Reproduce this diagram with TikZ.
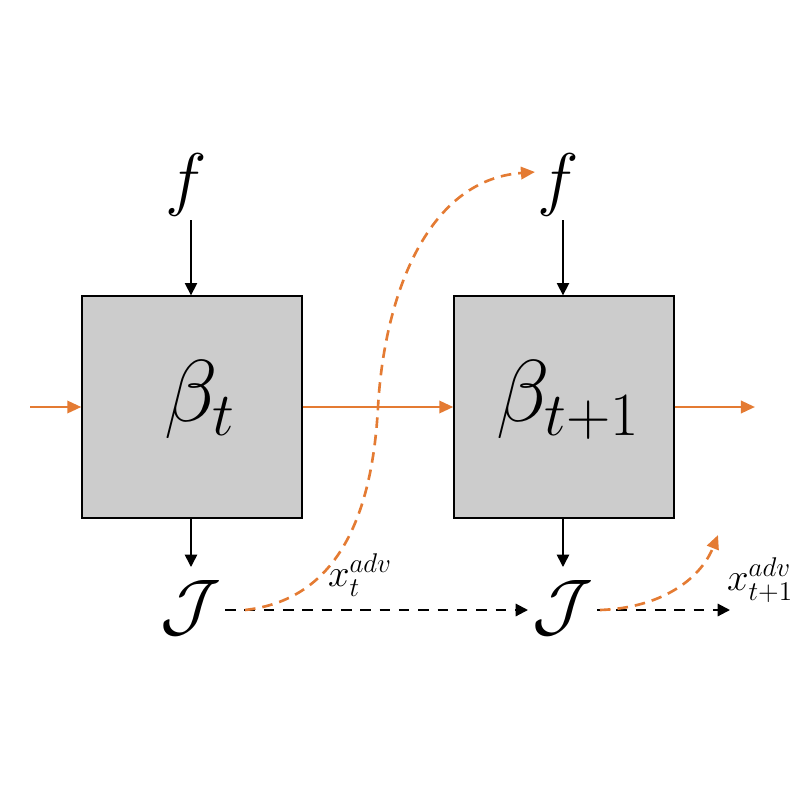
\RequirePackage{fix-cm}
\documentclass[tikz,border=0pt]{standalone}
\usetikzlibrary{arrows.meta}
\definecolor{org}{HTML}{E47B33}
\definecolor{boxgray}{HTML}{CCCCCC}
\begin{document}
\begin{tikzpicture}[x=0.02cm,y=-0.02cm,
  blk/.style={draw=black, line width=0.8pt, fill=boxgray, minimum width=4.4cm, minimum height=4.44cm, inner sep=0pt},
  sym/.style={inner sep=1pt, font=\fontsize{40}{46}\selectfont},
  big/.style={inner sep=0pt, font=\fontsize{50}{56}\selectfont},
  lab/.style={inner sep=0pt, font=\fontsize{22}{26}\selectfont},
  blkarr/.style={draw=black, line width=0.9pt, -{Triangle[length=7pt,width=7pt]}},
  orarr/.style={draw=org, line width=1.5pt, -{Triangle[length=8pt,width=7pt]}},
  ordash/.style={draw=org, line width=1.5pt, dash pattern=on 6pt off 4pt, -{Triangle[length=8pt,width=7pt]}},
  bkdash/.style={draw=black, line width=1.2pt, dash pattern=on 6pt off 5pt, -{Triangle[length=7pt,width=7pt]}}]
\useasboundingbox (0,0) rectangle (799,799);
\node[blk] (b1) at (192,407) {};
\node[blk] (b2) at (564,407) {};
\node[big] (bt) at (200,400) {$\beta_t$};
\node[big] (bt1) at (568,400) {$\beta_{t+1}$};
\node[sym] (f1) at (186,185) {$f$};
\node[sym] (f2) at (558,185) {$f$};
\node[sym] (J1) at (191,608) {$\mathcal{J}$};
\node[sym] (J2) at (563,608) {$\mathcal{J}$};
\node[lab] (x1) at (360,575) {$x_t^{adv}$};
\node[lab] (x2) at (760,580) {$x_{t+1}^{adv}$};
\coordinate (in) at (30,407);
\coordinate (out) at (755,407);
\coordinate (end2) at (730,610);
\coordinate (o2) at (718,535);
% black arrows
\draw[blkarr] (191,220) -- (b1.north -| 191,0);
\draw[blkarr] (563,220) -- (b2.north -| 563,0);
\draw[blkarr] (b1.south -| 191,0) -- (191,567);
\draw[blkarr] (b2.south -| 563,0) -- (563,567);
% orange solid
\draw[orarr] (in) -- (b1.west);
\draw[orarr] (b1.east) -- (b2.west);
\draw[orarr] (b2.east) -- (out);
% dashed black
\draw[bkdash] (225,610) -- (528,610);
\draw[bkdash] (597,610) -- (end2);
% orange dashed curves
\draw[ordash] (245,610) .. controls (335,600) and (372,520) .. (378,407)
  .. controls (384,300) and (425,180) .. (535,172);
\draw[ordash] (600,610) .. controls (660,608) and (700,580) .. (o2);
\end{tikzpicture}
\end{document}
